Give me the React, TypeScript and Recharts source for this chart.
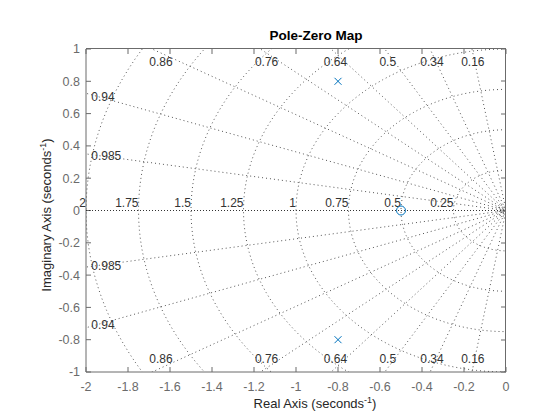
import React from 'react';
import { ComposedChart, Scatter, XAxis, YAxis } from 'recharts';

// damping ratios and natural frequencies of the s-plane grid
const zetaValues = [0.16, 0.34, 0.5, 0.64, 0.76, 0.86, 0.94, 0.985];
const wnValues = [0.25, 0.5, 0.75, 1, 1.25, 1.5, 1.75, 2];
const smallWnValues = [0.02, 0.04];

const poles = [
  { x: -0.8, y: 0.8 },
  { x: -0.8, y: -0.8 },
];
const zeros = [{ x: -0.5, y: 0 }];

const xTicks = [-2, -1.8, -1.6, -1.4, -1.2, -1, -0.8, -0.6, -0.4, -0.2, 0];
const yTicks = [-1, -0.8, -0.6, -0.4, -0.2, 0, 0.2, 0.4, 0.6, 0.8, 1];

const FONT = '"Liberation Sans", Arial, Helvetica, sans-serif';
const GRID = '#555';
const AXIS = '#6b6b6b';
const BLUE = '#0072BD';

// grid geometry (rays go past the plot box and get clipped)
const RAY = 3;
const dampingRays = zetaValues.map((z) => {
  const s = Math.sqrt(1 - z * z);
  return [
    { x: -RAY * z, y: RAY * s },
    { x: 0, y: 0 },
    { x: -RAY * z, y: -RAY * s },
  ];
});
const realAxisRay = [
  { x: -RAY, y: 0 },
  { x: 0, y: 0 },
];

const arc = (wn: number) => {
  const pts: { x: number; y: number }[] = [];
  for (let d = 0; d <= 180; d += 2) {
    const t = (d * Math.PI) / 180;
    pts.push({ x: -wn * Math.sin(t), y: wn * Math.cos(t) });
  }
  return pts;
};
const wnArcs = [...wnValues, ...smallWnValues].map(arc);

const zetaLabels = zetaValues.flatMap((z) => {
  const slope = Math.sqrt(1 - z * z) / z;
  const text = String(z);
  if (2 * slope > 1) {
    const x = -0.975 / slope;
    return [
      { x, y: 0.92, text, anchor: 'middle' },
      { x, y: -0.92, text, anchor: 'middle' },
    ];
  }
  return [
    { x: -1.975, y: 1.93 * slope, text, anchor: 'start' },
    { x: -1.975, y: -1.96 * slope, text, anchor: 'start' },
  ];
});
const wnLabels = wnValues.map((wn) => ({ x: -wn, y: 0.046, text: String(wn), anchor: 'end' }));

// inward ticks on the top and right edges of the box
const boxTicks = [
  ...xTicks.map((x) => ({ x, y: 0.999, side: 'top' })),
  ...yTicks.map((y) => ({ x: -0.001, y, side: 'right' })),
];

const Nothing = () => <g />;

const GridText = (props: any) => (
  <text
    x={props.cx}
    y={props.cy}
    textAnchor={props.payload.anchor}
    dominantBaseline="central"
    fontSize={12}
    fontFamily={FONT}
    fill="#333"
  >
    {props.payload.text}
  </text>
);

const BoxTick = (props: any) => {
  const { cx, cy } = props;
  const top = props.payload.side === 'top';
  return (
    <rect
      x={top ? Math.round(cx) - 0.5 : Math.round(cx) - 5}
      y={top ? Math.round(cy) : Math.round(cy) - 0.5}
      width={top ? 1 : 5}
      height={top ? 5 : 1}
      fill={AXIS}
    />
  );
};

const PoleMark = ({ cx, cy }: any) => (
  <path
    d={`M${cx - 3.5},${cy - 3.5}L${cx + 3.5},${cy + 3.5}M${cx - 3.5},${cy + 3.5}L${cx + 3.5},${cy - 3.5}`}
    stroke={BLUE}
    strokeWidth={1}
    fill="none"
  />
);

const ZeroMark = ({ cx, cy }: any) => (
  <circle cx={cx} cy={cy} r={4.5} stroke={BLUE} strokeWidth={1} fill="none" />
);

const tickStyle = { fontSize: 12.5, fontFamily: FONT, fill: AXIS };

export default function App() {
  return (
    <div style={{ position: 'absolute', left: 0, top: 0, width: 560, height: 420, background: '#fff' }}>
      <ComposedChart width={560} height={420} margin={{ top: 49, right: 54, bottom: 18, left: 46 }}>
        <XAxis
          xAxisId="b"
          dataKey="x"
          type="number"
          domain={[-2, 0]}
          ticks={xTicks}
          interval={0}
          allowDataOverflow
          height={30}
          tickSize={-5}
          tickMargin={15}
          stroke={AXIS}
          tick={tickStyle}
        />
        <XAxis xAxisId="t" dataKey="x" type="number" domain={[-2, 0]} hide />
        <YAxis
          yAxisId="l"
          dataKey="y"
          type="number"
          domain={[-1, 1]}
          ticks={yTicks}
          interval={0}
          allowDataOverflow
          width={40}
          tickSize={-5}
          tickMargin={11}
          stroke={AXIS}
          tick={tickStyle}
        />
        <YAxis yAxisId="r" dataKey="y" type="number" domain={[-1, 1]} hide />

        {dampingRays.map((pts, i) => (
          <Scatter
            key={`z${i}`}
            xAxisId="b"
            yAxisId="l"
            data={pts}
            line={{ stroke: GRID, strokeWidth: 1, strokeDasharray: '1 3' }}
            lineType="joint"
            shape={Nothing}
            isAnimationActive={false}
          />
        ))}
        <Scatter
          xAxisId="b"
          yAxisId="l"
          data={realAxisRay}
          line={{ stroke: '#333', strokeWidth: 1, strokeDasharray: '1 2' }}
          lineType="joint"
          shape={Nothing}
          isAnimationActive={false}
        />
        {wnArcs.map((pts, i) => (
          <Scatter
            key={`w${i}`}
            xAxisId="b"
            yAxisId="l"
            data={pts}
            line={{ stroke: GRID, strokeWidth: 1, strokeDasharray: '1 3' }}
            lineType="joint"
            shape={Nothing}
            isAnimationActive={false}
          />
        ))}

        <Scatter xAxisId="t" yAxisId="r" data={zetaLabels} shape={GridText} isAnimationActive={false} />
        <Scatter xAxisId="t" yAxisId="r" data={wnLabels} shape={GridText} isAnimationActive={false} />
        <Scatter xAxisId="t" yAxisId="r" data={boxTicks} shape={BoxTick} isAnimationActive={false} />

        <Scatter xAxisId="b" yAxisId="l" data={poles} shape={PoleMark} isAnimationActive={false} />
        <Scatter xAxisId="b" yAxisId="l" data={zeros} shape={ZeroMark} isAnimationActive={false} />
      </ComposedChart>

      {/* top and right edges of the axes box */}
      <div
        style={{
          position: 'absolute',
          left: 86,
          top: 48,
          width: 420,
          height: 324,
          borderTop: `1px solid ${AXIS}`,
          borderRight: `1px solid ${AXIS}`,
          boxSizing: 'border-box',
          pointerEvents: 'none',
        }}
      />

      <div
        style={{
          position: 'absolute',
          left: 316,
          top: 28.5,
          transform: 'translateX(-50%)',
          fontFamily: FONT,
          fontSize: 13.5,
          fontWeight: 'bold',
          lineHeight: 1,
          whiteSpace: 'nowrap',
          color: '#000',
        }}
      >
        Pole-Zero Map
      </div>
      <div
        style={{
          position: 'absolute',
          left: 315,
          top: 396,
          transform: 'translateX(-50%)',
          fontFamily: FONT,
          fontSize: 13,
          lineHeight: 1,
          whiteSpace: 'nowrap',
          color: '#262626',
        }}
      >
        Real Axis (seconds<sup style={{ fontSize: 9 }}>-1</sup>)
      </div>
      <div
        style={{
          position: 'absolute',
          left: 46,
          top: 215,
          transform: 'translate(-50%, -50%) rotate(-90deg)',
          fontFamily: FONT,
          fontSize: 13,
          lineHeight: 1,
          whiteSpace: 'nowrap',
          color: '#262626',
        }}
      >
        Imaginary Axis (seconds<sup style={{ fontSize: 9 }}>-1</sup>)
      </div>
    </div>
  );
}
